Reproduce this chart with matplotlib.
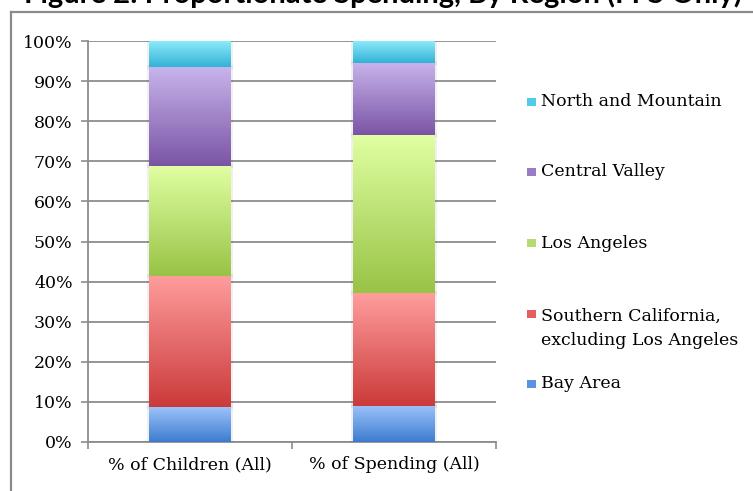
import numpy as np
import matplotlib
matplotlib.use("Agg")
import matplotlib.pyplot as plt
from matplotlib.colors import LinearSegmentedColormap
from matplotlib.lines import Line2D
from matplotlib.patches import Rectangle
import matplotlib.patheffects as pe

# ---------------- data ----------------
categories = ["% of Children (All)", "% of Spending (All)"]
regions = ["Bay Area", "Southern California,\nexcluding Los Angeles",
           "Los Angeles", "Central Valley", "North and Mountain"]
bay_area = [8.7, 9.1]
southern_ca = [32.8, 28.1]
los_angeles = [27.3, 39.3]
central_valley = [24.6, 18.0]
north_mountain = [6.6, 5.5]
ytick_values = [0, 10, 20, 30, 40, 50, 60, 70, 80, 90, 100]
ytick_labels = ["0%", "10%", "20%", "30%", "40%", "50%", "60%", "70%", "80%", "90%", "100%"]
title = "Figure 2: Proportionate Spending, By Region (FFS Only)"

series = [bay_area, southern_ca, los_angeles, central_valley, north_mountain]
# (top colour, bottom colour) gradients
grads = [("#9cc2fb", "#3e7ccf"),
         ("#ff9d9d", "#cb3a3a"),
         ("#e0ffa2", "#98c346"),
         ("#c8b4ec", "#7a54a4"),
         ("#90ecfc", "#32b2d4")]
legend_cols = ["#5b92e0", "#e45f5f", "#b5dc6e", "#9a7cc4", "#52cbe6"]

W, H = 753, 491
fig = plt.figure(figsize=(W / 100, H / 100), dpi=100)
ax = fig.add_axes([88 / W, 1 - 442 / H, (496 - 88) / W, (442 - 41) / H])

serif = "DejaVu Serif"
fs = 12.5
grid_c = "#8c8c8c"

x = np.arange(len(categories))
bottom = np.zeros(len(categories))
grad_img = np.linspace(1, 0, 256).reshape(-1, 1)
for vals, (ctop, cbot) in zip(series, grads):
    bars = ax.bar(x, vals, width=0.4, bottom=bottom, color=ctop, zorder=3,
                  linewidth=0)
    cmap = LinearSegmentedColormap.from_list("g", [cbot, ctop])
    for b in bars:
        b.set_path_effects([pe.withStroke(linewidth=3, foreground=(0, 0, 0, 0.06))])
        x0, y0 = b.get_x(), b.get_y()
        im = ax.imshow(grad_img, cmap=cmap, aspect="auto", zorder=3.5,
                       extent=[x0, x0 + b.get_width(), y0, y0 + b.get_height()],
                       vmin=0, vmax=1, interpolation="bilinear")
        im.set_clip_path(b)
    bottom += np.array(vals)

ax.set_xlim(-0.5, 1.5)
ax.set_ylim(0, 100)
ax.set_yticks(ytick_values)
ax.set_yticklabels(ytick_labels, fontfamily=serif, fontsize=fs)
ax.set_xticks(x)
ax.set_xticklabels(categories, fontfamily=serif, fontsize=fs)
ax.tick_params(axis="x", which="major", length=0, pad=10)
ax.set_xticks([-0.5, 0.5, 1.5], minor=True)
ax.tick_params(axis="x", which="minor", length=5, width=1.2, color=grid_c)
ax.tick_params(axis="y", length=5, width=1.2, color=grid_c, pad=6)
ax.yaxis.grid(True, color=grid_c, linewidth=1.3, zorder=1)
ax.set_axisbelow(True)
for s in ["top", "right"]:
    ax.spines[s].set_visible(False)
for s in ["left", "bottom"]:
    ax.spines[s].set_color(grid_c)
    ax.spines[s].set_linewidth(1.3)

# legend (manual, Excel-like even spacing)
leg_y = [384, 328, 243, 172, 102]
sq_y = [384, 314, 243, 172, 102]
for col, lab, ty, sy in zip(legend_cols, regions, leg_y, sq_y):
    fig.add_artist(Rectangle((527 / W, 1 - (sy + 4) / H), 9 / W, 8 / H,
                             transform=fig.transFigure, facecolor=col,
                             edgecolor="none"))
    fig.text(541 / W, 1 - ty / H, lab, fontfamily=serif, fontsize=fs,
             va="center", ha="left", linespacing=1.55)

# outer frame (partially visible)
fig.add_artist(Line2D([11 / W, 11 / W], [0, 1 - 12 / H], transform=fig.transFigure,
                      color="#8a8a8a", linewidth=1.6))
fig.add_artist(Line2D([11 / W, 1], [1 - 12 / H, 1 - 12 / H], transform=fig.transFigure,
                      color="#8a8a8a", linewidth=1.6))

# title, cut off at the top of the image (as in the reference)
fig.text(24 / W, 1 - 3.5 / H, title, fontfamily="Lato", fontweight="bold",
         fontsize=21, va="baseline", ha="left")

fig.savefig("out.png", dpi=100)
